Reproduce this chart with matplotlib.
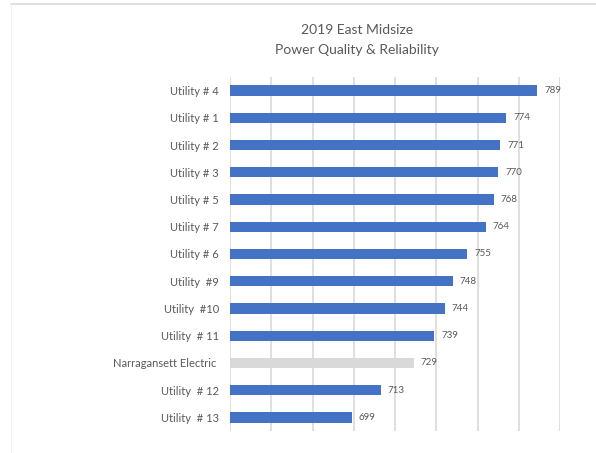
import matplotlib
matplotlib.use("Agg")
import matplotlib.pyplot as plt
from matplotlib.lines import Line2D

categories = ["Utility # 4", "Utility # 1", "Utility # 2", "Utility # 3", "Utility # 5",
              "Utility # 7", "Utility # 6", "Utility  #9", "Utility  #10", "Utility  # 11",
              "Narragansett Electric ", "Utility  # 12", "Utility  # 13"]
scores = [789, 774, 771, 770, 768, 764, 755, 748, 744, 739, 729, 713, 699]
highlight = "Narragansett Electric "

BLUE = "#4472C4"
GREY = "#D9D9D9"
TEXT = "#595959"
FONT = ["Lato", "DejaVu Sans"]

fig = plt.figure(figsize=(5.96, 4.53), dpi=100)
fig.patch.set_facecolor("white")

# faint chart frame
fig.add_artist(Line2D([11/596, 1], [1 - 3.5/453, 1 - 3.5/453], color="#DADADA", lw=1.2))
fig.add_artist(Line2D([11/596, 11/596], [0, 1 - 3.5/453], color="#F0F0F0", lw=0.8))

ax = fig.add_axes([230/596, 1 - 431/453, (560 - 230)/596, (431 - 77)/453])
ypos = list(range(len(categories)))
colors = [GREY if c == highlight else BLUE for c in categories]
ax.barh(ypos, [s - 640 for s in scores], left=640, height=0.38, color=colors, zorder=3)

ax.set_xlim(640, 800)
ax.set_ylim(len(categories) - 0.5, -0.5)
ax.set_xticks(range(640, 801, 20))
ax.xaxis.grid(True, color="#D9D9D9", lw=1.2, zorder=0)
ax.tick_params(axis="x", length=0, labelbottom=False)
ax.tick_params(axis="y", length=0, pad=8)
ax.set_yticks(ypos)
ax.set_yticklabels(categories, fontsize=8, color=TEXT, family=FONT)
for sp in ax.spines.values():
    sp.set_visible(False)

for y, s in zip(ypos, scores):
    ax.annotate(str(s), (s, y), xytext=(5, 0), textcoords="offset points",
                va="center", ha="left", fontsize=7, color=TEXT, family=FONT)

fig.text(357/596, 1 - 30/453, "2019 East Midsize", ha="center", va="center",
         fontsize=10, color=TEXT, family=FONT)
fig.text(357/596, 1 - 50/453, "Power Quality & Reliability", ha="center", va="center",
         fontsize=10, color=TEXT, family=FONT)

fig.savefig("out.png", dpi=100, facecolor="white")
